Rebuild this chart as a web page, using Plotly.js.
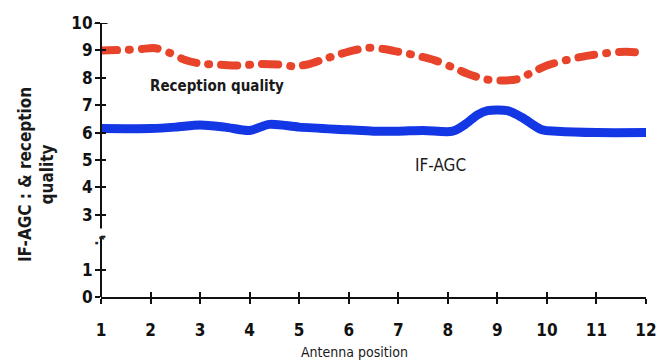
<!DOCTYPE html>
<html><head><meta charset="utf-8">
<script src="https://cdn.plot.ly/plotly-3.0.1.min.js"></script>
<style>html,body{margin:0;padding:0;background:#fff}
#chart{width:656px;height:362px}
.scatterlayer .js-line{stroke-linecap:round;stroke-linejoin:round}
</style></head><body><div id="chart"></div>
<script>
const receptionX = [1.0,1.5,1.8,2.1,2.4,2.7,3.0,3.4,3.8,4.2,4.6,4.9,5.2,5.5,5.8,6.1,6.4,6.7,7.0,7.4,7.8,8.1,8.4,8.75,9.0,9.4,9.65,10.0,10.4,10.8,11.2,11.6,12.0];
const receptionY = [9.0,9.02,9.05,9.08,8.9,8.65,8.52,8.48,8.45,8.5,8.48,8.42,8.5,8.68,8.85,9.0,9.1,9.05,8.95,8.8,8.6,8.38,8.15,7.95,7.9,7.95,8.15,8.45,8.65,8.8,8.9,8.95,8.9];
const agcX = [1.0,2.0,2.5,3.0,3.5,4.0,4.4,5.0,6.0,6.5,7.0,7.5,8.1,8.35,8.6,8.8,9.2,9.5,9.9,10.2,11.0,12.0];
const agcY = [6.15,6.15,6.2,6.28,6.2,6.08,6.3,6.2,6.1,6.05,6.05,6.08,6.05,6.3,6.65,6.8,6.8,6.55,6.1,6.05,6.0,6.0];
const xTickVals = [1,2,3,4,5,6,7,8,9,10,11,12];
const yTickVals = [0,1,3,4,5,6,7,8,9,10];
const seriesNames = ['Reception quality','IF-AGC'];

const tickFont = {family:'DejaVu Sans Condensed', size:17, weight:'bold', color:'#111'};
const traces = [
  {x:receptionX, y:receptionY, mode:'lines', name:seriesNames[0], line:{color:'#e8432b', width:8, shape:'spline', smoothing:0.8, dash:'16px,12px,1px,12px'}, hoverinfo:'skip'},
  {x:agcX, y:agcY, mode:'lines', name:seriesNames[1], line:{color:'#1437e6', width:9, shape:'spline', smoothing:0.8}, hoverinfo:'skip'},
  {x:[1], y:[0], xaxis:'x2', yaxis:'y2', mode:'markers', marker:{opacity:0}, hoverinfo:'skip', showlegend:false}
];
const axisLine = {color:'#111', width:2};
const layout = {
  width:656, height:362, showlegend:false,
  paper_bgcolor:'#fff', plot_bgcolor:'#fff',
  margin:{l:101, r:10, t:23, b:65},
  xaxis:{range:[1,12], tickvals:xTickVals, ticks:'outside', ticklen:5, tickwidth:2, tickcolor:'#111',
         showline:true, linecolor:'#111', linewidth:2, showgrid:false, zeroline:false,
         tickfont:tickFont, ticklabelstandoff:12, ticklabeloverflow:'allow'},
  yaxis:{range:[0,10], tickvals:yTickVals, ticks:'outside', ticklen:5, tickwidth:2, tickcolor:'#111',
         showline:false, showgrid:false, zeroline:false, tickfont:tickFont, ticklabelstandoff:-1},
  xaxis2:{range:[1,12], overlaying:'x', anchor:'y2', tickvals:xTickVals, ticks:'inside', ticklen:5, tickwidth:2, tickcolor:'#111', showticklabels:false, showgrid:false, zeroline:false, showline:false},
  yaxis2:{range:[0,10], overlaying:'y', anchor:'x2', tickvals:yTickVals, ticks:'inside', ticklen:5, tickwidth:2, tickcolor:'#111', showticklabels:false, showgrid:false, zeroline:false, showline:false},
  shapes:[
    {type:'line', xref:'paper', yref:'y', x0:0, x1:0, y0:0, y1:2.2, line:axisLine},
    {type:'line', xref:'paper', yref:'y', x0:0, x1:0.008, y0:2.2, y1:2.2, line:axisLine},
    {type:'line', xref:'paper', yref:'y', x0:0, x1:0, y0:2.5, y1:10, line:axisLine},
    {type:'line', xref:'paper', yref:'y', x0:-0.012, x1:0.012, y0:10, y1:10, line:axisLine}
  ],
  annotations:[
    {text:'Reception quality', xref:'x', yref:'y', x:3.35, y:7.7, showarrow:false,
     font:{family:'DejaVu Sans Condensed', size:15, weight:'bold', color:'#1a1a1a'}},
    {text:'IF-AGC', xref:'x', yref:'y', x:7.85, y:4.8, showarrow:false,
     font:{family:'DejaVu Sans Condensed', size:17, color:'#1a1a1a'}},
    {text:'·,', xref:'paper', yref:'y', x:0, xshift:-14, y:2.05, showarrow:false, textangle:-90,
     font:{family:'DejaVu Sans', size:14, weight:'bold', color:'#222'}},
    {text:'IF-AGC : & reception<br>quality', xref:'paper', yref:'paper', x:0, xanchor:'center', xshift:-65, y:0.445, showarrow:false, textangle:-90,
     font:{family:'DejaVu Sans Condensed', size:17, weight:'bold', color:'#1a1a1a'}},
    {text:'Antenna position', xref:'paper', yref:'paper', x:0.465, y:0, yshift:-55, yanchor:'middle', showarrow:false,
     font:{family:'DejaVu Sans Condensed', size:14, color:'#1a1a1a'}}
  ]
};
Plotly.newPlot('chart', traces, layout, {staticPlot:true, displayModeBar:false});
</script></body></html>
